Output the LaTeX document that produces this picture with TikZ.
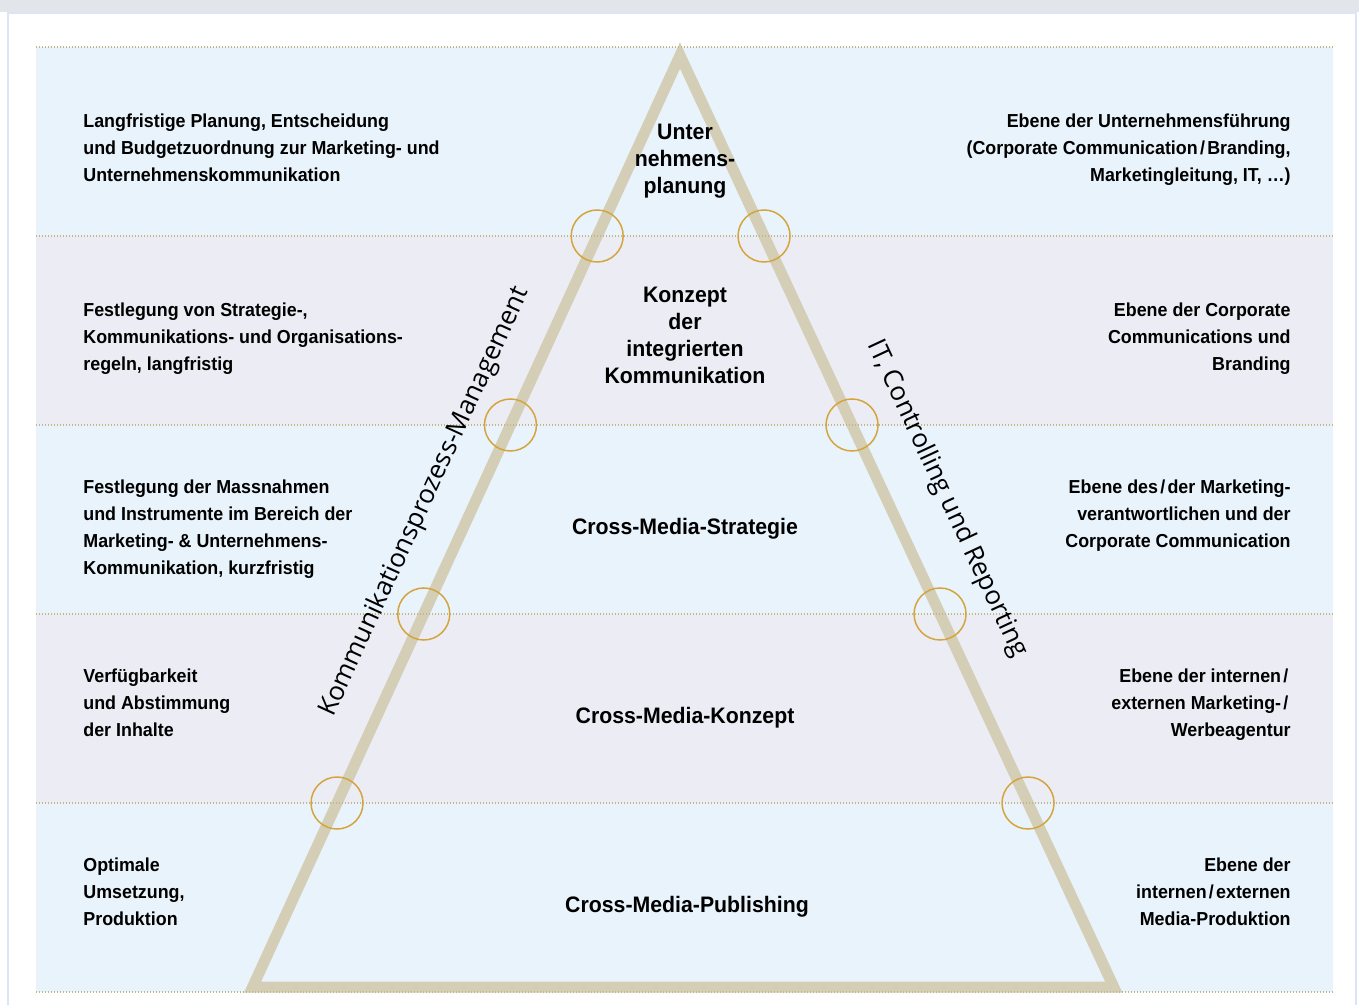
\documentclass[tikz,border=0pt]{standalone}
\usepackage{fontspec}
\setmainfont[FakeStretch=0.95]{Liberation Sans}
\newfontfamily\edgefont{Open Sans}
\usepackage{xcolor}
\usepackage{tikz}
\usetikzlibrary{positioning,calc}
\definecolor{topgray}{RGB}{226,230,234}
\definecolor{framelilac}{RGB}{221,228,248}
\definecolor{bandblue}{RGB}{233,243,252}
\definecolor{bandlilac}{RGB}{236,236,244}
\definecolor{dotgold}{RGB}{196,182,130}
\definecolor{pyrbeige}{RGB}{211,206,181}
\definecolor{ringgold}{RGB}{212,165,60}
% slightly wider slash
\newcommand{\wsl}{\kern0.12em/\kern0.12em}

\tikzset{
  dotline/.style={dotgold, line width=0.6pt, dash pattern=on 0.5pt off 1pt},
  pyramid/.style={pyrbeige, line width=5.5pt},
  ring/.style={ringgold, line width=0.75pt},
  sidetext/.style={font=\fontsize{9.4}{13.5}\selectfont\bfseries, inner sep=0pt},
  midtext/.style={font=\fontsize{11.2}{13.5}\selectfont\bfseries, inner sep=0pt, align=center, anchor=base},
  edgelabel/.style={font=\edgefont\fontsize{13}{15}\selectfont, inner sep=0pt}
}

\begin{document}
\begin{tikzpicture}[x=0.5pt, y=-0.5pt]
  \useasboundingbox (0,0) rectangle (1359,1005);

  % Frame
  \fill[topgray] (0,0) rectangle (1359,12);
  \fill[white] (8,12) rectangle (1356,1005);
  \draw[framelilac, line width=1pt] (8,1005) -- (8,13) -- (1356,13) -- (1356,1005);

  % Bands
  \foreach \i/\col in {0/bandblue,1/bandlilac,2/bandblue,3/bandlilac,4/bandblue}
    \fill[\col] (36,47+189*\i) rectangle (1333,236+189*\i);

  % Pyramid
  \coordinate (apex) at (680,55.5);
  \coordinate (bl) at (252.6,987);
  \coordinate (br) at (1113.7,987);
  \draw[pyramid] (apex) -- (bl) -- (br) -- cycle;

  % Band borders
  \foreach \y in {47,236,425,614,803,992}
    \draw[dotline] (36,\y) -- (1333,\y);

  % Rings where the borders cross the pyramid
  \foreach \y in {236,425,614,803} {
    \draw[ring] ($(apex)!{(\y-55.5)/931.5}!(bl)$) circle (26);
    \draw[ring] ($(apex)!{(\y-55.5)/931.5}!(br)$) circle (26);
  }

  % Inside the pyramid (base = last line)
  \node[midtext] (lvl1) at (685,194) {Unter\\nehmens-\\planung};
  \node[midtext] (lvl2) at (685,384) {Konzept\\der\\integrierten\\Kommunikation};
  \node[midtext] (lvl3) at (685,534) {Cross-Media-Strategie};
  \node[midtext] (lvl4) at (685,723) {Cross-Media-Konzept};
  \node[midtext] (lvl5) at (687,912) {Cross-Media-Publishing};

  % Left column
  \node[sidetext, align=left, anchor=base west] (task1) at (83,182)
    {Langfristige Planung, Entscheidung\\und Budgetzuordnung zur Marketing- und\\Unternehmenskommunikation};
  \node[sidetext, align=left, anchor=base west] (task2) at (83,371)
    {Festlegung von Strategie-,\\Kommunikations- und Organisations-\\regeln, langfristig};
  \node[sidetext, align=left, anchor=base west] (task3) at (83,574)
    {Festlegung der Massnahmen\\und Instrumente im Bereich der\\Marketing- \& Unternehmens-\\Kommunikation, kurzfristig};
  \node[sidetext, align=left, anchor=base west] (task4) at (83,736)
    {Verfügbarkeit\\und Abstimmung\\der Inhalte};
  \node[sidetext, align=left, anchor=base west] (task5) at (83,925)
    {Optimale\\Umsetzung,\\Produktion};

  % Right column
  \node[sidetext, align=right, anchor=base east] (role1) at (1291,182)
    {Ebene der Unternehmensführung\\(Corporate Communication\wsl Branding,\\Marketingleitung, IT, \dots)};
  \node[sidetext, align=right, anchor=base east] (role2) at (1291,371)
    {Ebene der Corporate\\Communications und\\Branding};
  \node[sidetext, align=right, anchor=base east] (role3) at (1291,547)
    {Ebene des\wsl der Marketing-\\verantwortlichen und der\\Corporate Communication};
  \node[sidetext, align=right, anchor=base east] (role4) at (1291,736)
    {Ebene der internen\wsl\\externen Marketing-\wsl\\Werbeagentur};
  \node[sidetext, align=right, anchor=base east] (role5) at (1291,925)
    {Ebene der\\internen\wsl externen\\Media-Produktion};

  % Along the sides
  \node[edgelabel, rotate=65.4] (procmgmt) at (425,502) {Kommunikationsprozess-Management};
  \node[edgelabel, rotate=-65] (itctrl) at (947,499) {IT, Controlling und Reporting};
\end{tikzpicture}
\end{document}
